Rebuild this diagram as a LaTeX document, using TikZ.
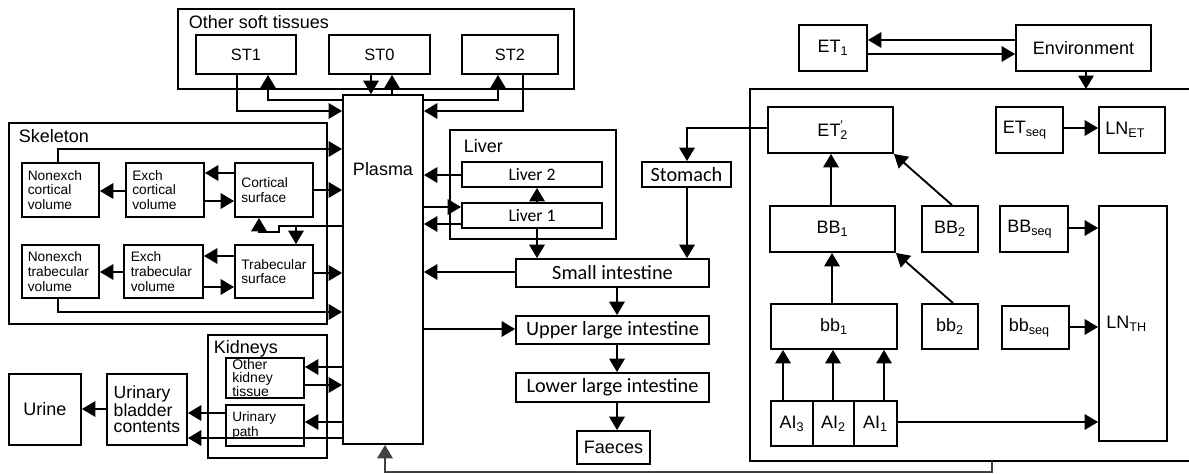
\documentclass[tikz,border=0pt]{standalone}
\usepackage{fontspec}
\setmainfont{Liberation Sans}
\newfontfamily\calfont{Carlito}
\usetikzlibrary{arrows.meta}

\begin{document}
\begin{tikzpicture}[x=0.75pt, y=-0.75pt, line width=1.4pt,
  >={Triangle[length=10pt,width=11.5pt]},
  box/.style={draw, line width=1.4pt, inner sep=0pt, align=center,
    font=\fontsize{13.5}{15}\selectfont},
  spans/.style args={#1/#2/#3/#4}{minimum width={(#3-#1)*0.75pt},
    minimum height={(#4-#2)*0.75pt}, at={({(#1+#3)/2},{(#2+#4)/2})}},
  lft/.style={align=left, text width=#1},
  small/.style={font=\fontsize{10.3}{11}\selectfont},
  mid/.style={font=\fontsize{12.3}{14}\selectfont},
  cal/.style={font=\calfont\fontsize{15.2}{17}\selectfont},
  grptitle/.style={anchor=north west, inner sep=0pt,
    font=\fontsize{13.5}{15}\selectfont}]

  \useasboundingbox (0,0) rectangle (1189,474);

  %% ── Compartment groups ──────────────────────────────────────────
  \node[box, spans=178/9/574/89] (soft) {};
  \node[grptitle] (softttl) at (188,15) {Other soft tissues};
  \node[box, spans=9/123/327/324] (skel) {};
  \node[grptitle] (skelttl) at (18,129) {Skeleton};
  \node[box, spans=208/335/327/458] (kid) {};
  \node[grptitle] (kidttl) at (213,340) {Kidneys};
  \node[box, spans=450/130/616/239] (liver) {};
  \node[grptitle] (liverttl) at (463,139) {Liver};
  % respiratory tract (open to the right)
  \draw (1189,89) -- (750,89) -- (750,461) -- (1189,461);
  \coordinate (rtop) at (1086,89);
  \coordinate (rbot) at (992,461);

  %% ── Soft tissues and plasma ─────────────────────────────────────
  \node[box, mid, spans=196/35/296/74] (st1) {ST1};
  \node[box, mid, spans=329/35/430/74] (st0) {ST0};
  \node[box, mid, spans=462/35/558/74] (st2) {ST2};
  \node[box, spans=343/95/423/444] (plasma) {};
  \node[font=\fontsize{13.5}{15}\selectfont] (plasmattl) at (383,169) {Plasma};

  %% ── Skeleton ────────────────────────────────────────────────────
  \node[box, small, lft=49pt, spans=22/163/99/217] (ncv) {Nonexch\\cortical\\volume};
  \node[box, small, lft=49pt, spans=126/163/204/217] (ecv) {Exch\\cortical\\volume};
  \node[box, small, lft=49pt, spans=235/163/313/217] (csurf) {Cortical\\surface};
  \node[box, small, lft=49pt, spans=22/245/99/298] (ntv) {Nonexch\\trabecular\\volume};
  \node[box, small, lft=49pt, spans=124/245/203/298] (etv) {Exch\\trabecular\\volume};
  \node[box, small, lft=49pt, spans=235/245/313/298] (tsurf) {Trabecular\\surface};

  %% ── Kidneys and urine ───────────────────────────────────────────
  \node[box, lft=49pt, font=\fontsize{10.5}{9.75}\selectfont,
    spans=226/358/304/398] (okt) {Other\\kidney\\tissue};
  \node[box, lft=49pt, font=\fontsize{10.2}{10.7}\selectfont,
    spans=226/405/304/446] (upath) {Urinary\\path};
  \node[box, align=left, font=\fontsize{13.2}{12}\selectfont,
    spans=107/374/187/445] (ubc) {Urinary\\bladder\\contents};
  \node[box, spans=9/374/81/445] (urine) {Urine};

  %% ── Liver and GI tract ──────────────────────────────────────────
  \node[box, font=\calfont\fontsize{13.2}{15}\selectfont, spans=462/162/602/187] (liv2) {Liver 2};
  \node[box, font=\calfont\fontsize{13.2}{15}\selectfont, spans=462/203/602/228] (liv1) {Liver 1};
  \node[box, cal, spans=642/162/731/187] (stom) {Stomach};
  \node[box, cal, spans=516/259/709/287] (si) {Small intestine};
  \node[box, cal, spans=516/316/709/344] (uli) {Upper large intestine};
  \node[box, cal, spans=516/373/709/402] (lli) {Lower large intestine};
  \node[box, spans=577/431/650/464] (faec) {Faeces};

  %% ── Respiratory tract ───────────────────────────────────────────
  \node[box, spans=799/25/867/71] (et1) {ET\textsubscript{1}};
  \node[box, spans=1016/25/1151/71] (env) {Environment};
  \node[box, spans=768/107/893/153] (et2) {ET\rlap{\textsubscript{2}}\textsuperscript{′}};
  \node[box, lft=40pt, spans=996/107/1063/153] (etseq) {ET\textsubscript{seq}};
  \node[box, lft=40pt, spans=1099/107/1165/153] (lnet) {LN\textsubscript{ET}};
  \node[box, spans=770/206/895/252] (bb1) {BB\textsubscript{1}};
  \node[box, spans=922/206/978/252] (bb2) {BB\textsubscript{2}};
  \node[box, lft=40pt, spans=1000/206/1068/252] (bbseq) {BB\textsubscript{seq}};
  \node[box, lft=40pt, spans=1099/206/1167/441] (lnth) {LN\textsubscript{TH}};
  \node[box, spans=771/304/897/349] (sbb1) {bb\textsubscript{1}};
  \node[box, spans=922/304/978/349] (sbb2) {bb\textsubscript{2}};
  \node[box, lft=40pt, spans=1002/306/1069/349] (sbbseq) {bb\textsubscript{seq}};
  \node[box, spans=771/401/813/446] (ai3) {AI\textsubscript{3}};
  \node[box, spans=813/401/854/446] (ai2) {AI\textsubscript{2}};
  \node[box, spans=854/401/897/446] (ai1) {AI\textsubscript{1}};

  %% ── Plasma <-> soft tissues ─────────────────────────────────────
  \draw[->] (st1.south -| 237,0) |- (plasma.west |- 0,111);
  \draw[->] (plasma.west |- 0,100) -| (st1.south -| 268,0);
  \draw[->] (st0.south -| 371,0) -- (plasma.north -| 371,0);
  \draw[->] (plasma.north -| 392,0) -- (st0.south -| 392,0);
  \draw[->] (plasma.east |- 0,100) -| (st2.south -| 498,0);
  \draw[->] (st2.south -| 523,0) |- (plasma.east |- 0,111);

  %% ── Skeleton flows ──────────────────────────────────────────────
  \draw[->] (ncv.north -| 58,0) |- (plasma.west |- 0,149);
  \draw[->] (csurf.west |- 0,173) -- (ecv.east |- 0,173);
  \draw[->] (ecv.east |- 0,201) -- (csurf.west |- 0,201);
  \draw[->] (ecv.west |- 0,191) -- (ncv.east |- 0,191);
  \draw[->] (csurf.east |- 0,190) -- (plasma.west |- 0,190);
  \coordinate (sfjn) at (296,226);
  \draw[->] (plasma.west |- sfjn) -- (sfjn) -- (279,226) -- (279,232)
    -| (csurf.south -| 259,0);
  \draw[->] (sfjn) -- (tsurf.north -| sfjn);
  \draw[->] (tsurf.west |- 0,256) -- (etv.east |- 0,256);
  \draw[->] (etv.east |- 0,287) -- (tsurf.west |- 0,287);
  \draw[->] (etv.west |- 0,272) -- (ntv.east |- 0,272);
  \draw[->] (tsurf.east |- 0,273) -- (plasma.west |- 0,273);
  \draw[->] (ntv.south -| 58,0) |- (plasma.west |- 0,312);

  %% ── Kidneys / bladder ───────────────────────────────────────────
  \draw[->] (plasma.west |- 0,367) -- (okt.east |- 0,367);
  \draw[->] (okt.east |- 0,385) -- (plasma.west |- 0,385);
  \draw[->] (plasma.west |- 0,422) -- (upath.east |- 0,422);
  \draw[->] (upath.west |- 0,413) -- (ubc.east |- 0,413);
  \draw[->] (plasma.west |- 0,438) -- (ubc.east |- 0,438);
  \draw[->] (ubc.west |- 0,409) -- (urine.east |- 0,409);

  %% ── Liver ───────────────────────────────────────────────────────
  \draw[->] (liv2.west |- 0,175) -- (plasma.east |- 0,175);
  \draw[->] (plasma.east |- 0,207) -- (liv1.west |- 0,207);
  \draw[->] (liv1.west |- 0,224) -- (plasma.east |- 0,224);
  \draw[->] (liv1.north -| 537,0) -- (liv2.south -| 537,0);
  \draw[->] (liv1.south -| 537,0) -- (si.north -| 537,0);

  %% ── GI tract ────────────────────────────────────────────────────
  \draw[->] (si.west |- 0,272) -- (plasma.east |- 0,272);
  \draw[->] (plasma.east |- 0,329) -- (uli.west |- 0,329);
  \draw[->] (si.south -| 617,0) -- (uli.north -| 617,0);
  \draw[->] (uli.south -| 617,0) -- (lli.north -| 617,0);
  \draw[->] (lli.south -| 617,0) -- (faec.north -| 617,0);
  \draw[->] (stom.south -| 687,0) -- (si.north -| 687,0);
  \draw[->] (et2.west |- 0,128) -| (stom.north -| 687,0);

  %% ── Respiratory tract flows ─────────────────────────────────────
  \draw[->] (env.west |- 0,40) -- (et1.east |- 0,40);
  \draw[->] (et1.east |- 0,54) -- (env.west |- 0,54);
  \draw[->] (env.south -| rtop) -- (rtop);
  \draw[->] (bb1.north -| 831,0) -- (et2.south -| 831,0);
  \draw[->] (bb2.north -| 952,0) -- (et2.south east);
  \draw[->] (sbb1.north -| 832,0) -- (bb1.south -| 832,0);
  \draw[->] (sbb2.north -| 953,0) -- (bb1.south east);
  \foreach \n/\x in {ai3/783, ai2/833, ai1/884}
    \draw[->] (\n.north -| \x,0) -- (sbb1.south -| \x,0);
  \draw[->] (etseq.east |- 0,128) -- (lnet.west |- 0,128);
  \draw[->] (bbseq.east |- 0,228) -- (lnth.west |- 0,228);
  \draw[->] (sbbseq.east |- 0,327) -- (lnth.west |- 0,327);
  \draw[->] (ai1.east |- 0,422) -- (lnth.west |- 0,422);
  % absorption back to plasma
  \draw[->, black!75] (rbot) -- (992,472) -| (plasma.south -| 385,0);

\end{tikzpicture}
\end{document}
